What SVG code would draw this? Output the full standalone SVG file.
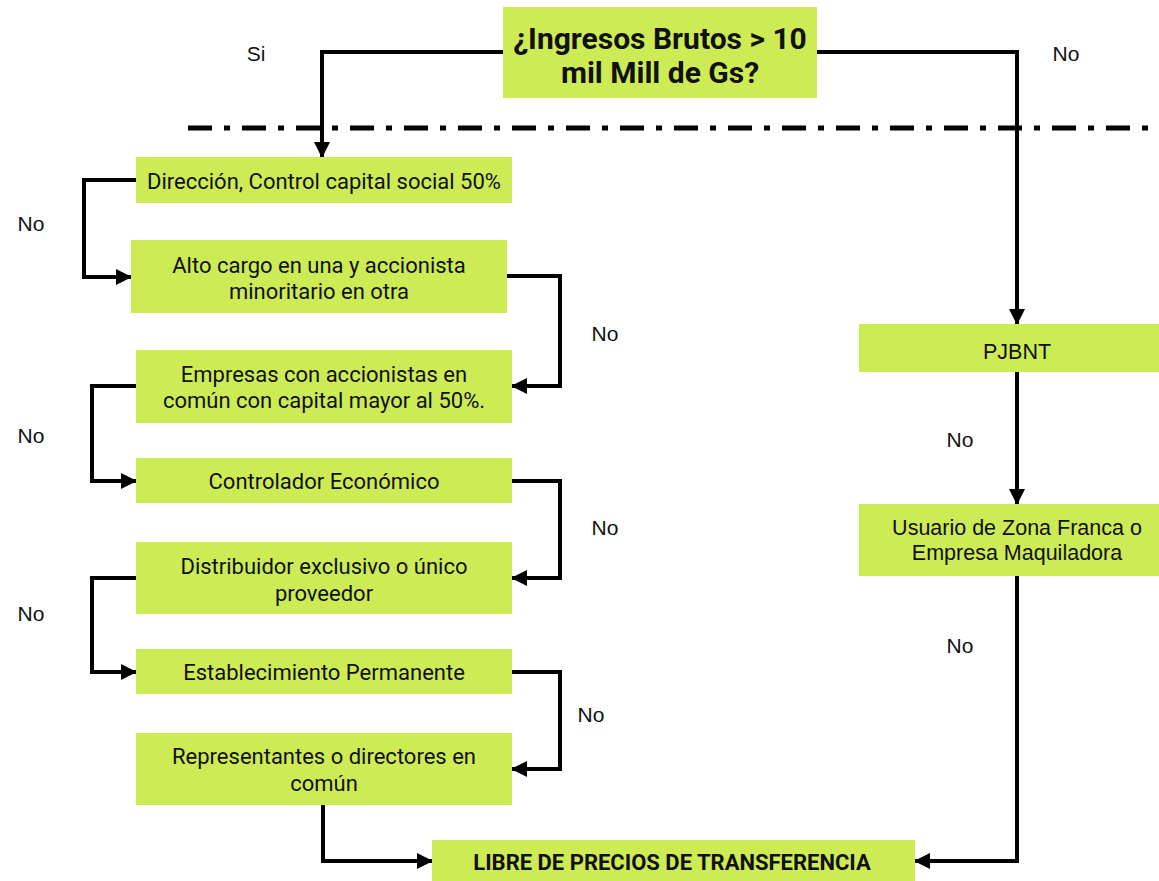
<svg xmlns="http://www.w3.org/2000/svg" width="1159" height="881" viewBox="0 0 1159 881">
<style>
.box{fill:#cdeb55;}
.t{font-family:Roboto,"Liberation Sans",sans-serif;font-size:22px;fill:#111;text-anchor:middle;}
.a{font-family:"Liberation Sans",Arial,sans-serif;font-size:21.5px;fill:#111;text-anchor:middle;}
.lbl{font-family:"Liberation Sans",Arial,sans-serif;font-size:21px;fill:#111;text-anchor:middle;}
.c{fill:none;stroke:#000;stroke-width:4;}
</style>
<defs>
<marker id="ah" markerUnits="userSpaceOnUse" markerWidth="16" markerHeight="16" viewBox="0 0 16 16" refX="15" refY="8" orient="auto">
<path d="M0,0 L16,8 L0,16 Z" fill="#000"/>
</marker>
</defs>
<rect width="1159" height="881" fill="#fff"/>
<line x1="188" y1="128" x2="1159" y2="128" stroke="#000" stroke-width="5" stroke-dasharray="24,12,6,12"/>
<g id="connectors">
<polyline class="c" points="503,52 322,52 322,157" marker-end="url(#ah)"/>
<polyline class="c" points="817,52 1017,52 1017,324" marker-end="url(#ah)"/>
<polyline class="c" points="136,180 84,180 84,277 131,277" marker-end="url(#ah)"/>
<polyline class="c" points="507,276 560,276 560,386 512,386" marker-end="url(#ah)"/>
<polyline class="c" points="136,386 92,386 92,481 136,481" marker-end="url(#ah)"/>
<polyline class="c" points="512,481 560,481 560,578 512,578" marker-end="url(#ah)"/>
<polyline class="c" points="136,578 92,578 92,672 136,672" marker-end="url(#ah)"/>
<polyline class="c" points="512,672 560,672 560,769 512,769" marker-end="url(#ah)"/>
<polyline class="c" points="323,805 323,861 432,861" marker-end="url(#ah)"/>
<polyline class="c" points="1017,372 1017,504" marker-end="url(#ah)"/>
<polyline class="c" points="1017,576 1017,861 915,861" marker-end="url(#ah)"/>
</g>
<g id="labels">
<text class="lbl" x="256" y="61">Si</text>
<text class="lbl" x="1066" y="61">No</text>
<text class="lbl" x="31" y="231">No</text>
<text class="lbl" x="605" y="341">No</text>
<text class="lbl" x="31" y="443">No</text>
<text class="lbl" x="605" y="535">No</text>
<text class="lbl" x="31" y="621">No</text>
<text class="lbl" x="591" y="722">No</text>
<text class="lbl" x="960" y="447">No</text>
<text class="lbl" x="960" y="653">No</text>
</g>
<g id="n-title"><rect class="box" x="503" y="7" width="314" height="91"/>
<text x="660" y="49" font-family="Roboto,'Liberation Sans',sans-serif" font-weight="bold" font-size="30" text-anchor="middle" fill="#111">¿Ingresos Brutos &gt; 10</text>
<text x="660" y="83" font-family="Roboto,'Liberation Sans',sans-serif" font-weight="bold" font-size="30" text-anchor="middle" fill="#111">mil Mill de Gs?</text></g>
<g id="n-direccion"><rect class="box" x="136" y="157" width="376" height="46"/><text class="t" x="324" y="189">Dirección, Control capital social 50%</text></g>
<g id="n-alto"><rect class="box" x="131" y="240" width="376" height="73"/><text class="t" x="319" y="273">Alto cargo en una y accionista</text><text class="t" x="319" y="299">minoritario en otra</text></g>
<g id="n-empresas"><rect class="box" x="136" y="350" width="376" height="73"/><text class="t" x="324" y="382">Empresas con accionistas en</text><text class="t" x="324" y="408">común con capital mayor al 50%.</text></g>
<g id="n-controlador"><rect class="box" x="136" y="458" width="376" height="45"/><text class="t" x="324" y="489">Controlador Económico</text></g>
<g id="n-distribuidor"><rect class="box" x="136" y="542" width="376" height="72"/><text class="t" x="324" y="574">Distribuidor exclusivo o único</text><text class="t" x="324" y="601">proveedor</text></g>
<g id="n-establecimiento"><rect class="box" x="136" y="649" width="376" height="45"/><text class="t" x="324" y="680">Establecimiento Permanente</text></g>
<g id="n-representantes"><rect class="box" x="136" y="733" width="376" height="72"/><text class="t" x="324" y="764">Representantes o directores en</text><text class="t" x="324" y="791">común</text></g>
<g id="n-libre"><rect class="box" x="432" y="840" width="483" height="41"/><text x="672" y="870" font-family="Roboto,'Liberation Sans',sans-serif" font-weight="bold" font-size="22" text-anchor="middle" fill="#111">LIBRE DE PRECIOS DE TRANSFERENCIA</text></g>
<g id="n-pjbnt"><rect class="box" x="859" y="324" width="300" height="48"/><text class="a" x="1017" y="359">PJBNT</text></g>
<g id="n-usuario"><rect class="box" x="859" y="504" width="300" height="72"/><text class="a" x="1017" y="535">Usuario de Zona Franca o</text><text class="a" x="1017" y="560">Empresa Maquiladora</text></g>
</svg>
